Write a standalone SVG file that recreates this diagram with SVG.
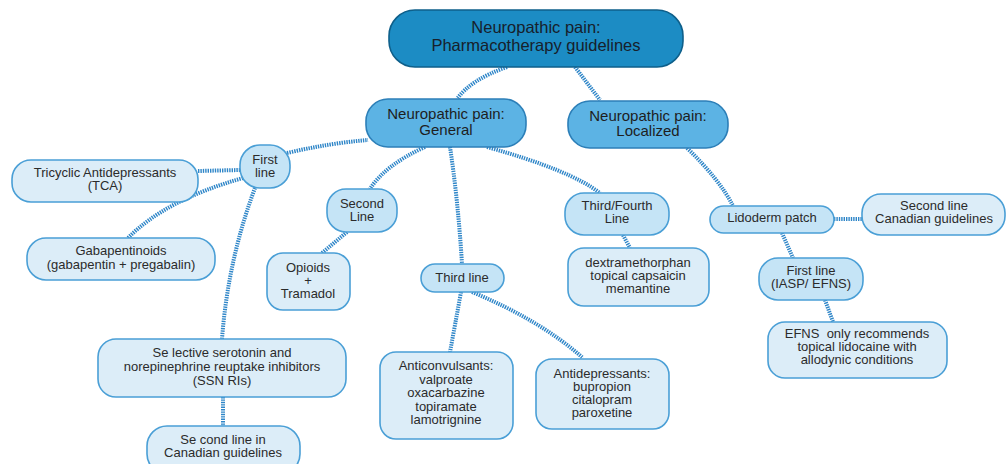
<svg xmlns="http://www.w3.org/2000/svg" width="1007" height="464" viewBox="0 0 1007 464">
<style>
text{font-family:"Liberation Sans",Arial,sans-serif;text-anchor:middle;fill:#2b2b2b;white-space:pre}
.s{font-size:13px}
.m{font-size:15px;fill:#1e1e1e}
.l{font-size:16.5px;fill:#17202b}
.leaf{fill:#dcedf8;stroke:#4a9fd6;stroke-width:1.6}
.cat{fill:#c5e4f6;stroke:#4a9fd6;stroke-width:1.6}
.mid{fill:#5cb3e4;stroke:#2c7fb8;stroke-width:1.6}
.root{fill:#1c8cc4;stroke:#0e5f8a;stroke-width:1.6}
.c{fill:none;stroke:#2f86c8;stroke-width:4;stroke-dasharray:1.4 1}
</style>
<rect width="1007" height="464" fill="#fff"/>
<g id="connectors">
<path class="c" d="M507,67 Q470,80 457,99"/>
<path class="c" d="M575,67 L600,100"/>
<path class="c" d="M287,153 Q330,143 368,140"/>
<path class="c" d="M198,171 L240,170"/>
<path class="c" d="M243,178 Q165,200 128,238"/>
<path class="c" d="M255,188 Q228,260 222,339"/>
<path class="c" d="M223,397 L223,426"/>
<path class="c" d="M425,147 Q385,165 370,189"/>
<path class="c" d="M347,232 L322,253"/>
<path class="c" d="M450,147 Q458,200 462,264"/>
<path class="c" d="M487,147 Q570,170 600,193"/>
<path class="c" d="M623,235 L630,248"/>
<path class="c" d="M461,292 Q455,325 450,352"/>
<path class="c" d="M472,292 Q540,320 583,358"/>
<path class="c" d="M687,148 Q720,180 733,206"/>
<path class="c" d="M834,219 L862,219"/>
<path class="c" d="M782,233 L793,258"/>
<path class="c" d="M825,300 L833,322"/>
</g>
<g id="root"><rect class="root" x="389" y="10" width="294" height="57" rx="26"/>
<text class="l" x="536" y="33">Neuropathic pain:</text><text class="l" x="536" y="51">Pharmacotherapy guidelines</text></g>
<g id="general"><rect class="mid" x="366" y="99" width="160" height="48" rx="22"/>
<text class="m" x="446" y="119">Neuropathic pain:</text><text class="m" x="446" y="135">General</text></g>
<g id="localized"><rect class="mid" x="568" y="101" width="160" height="47" rx="22"/>
<text class="m" x="648" y="121">Neuropathic pain:</text><text class="m" x="648" y="136">Localized</text></g>
<g id="first-line"><rect class="cat" x="240" y="145" width="50" height="43" rx="20"/>
<text class="s" x="265" y="164">First</text><text class="s" x="265" y="177">line</text></g>
<g id="tca"><rect class="leaf" x="12" y="160" width="186" height="42" rx="19"/>
<text class="s" x="105" y="177">Tricyclic Antidepressants</text><text class="s" x="105" y="190">(TCA)</text></g>
<g id="gaba"><rect class="leaf" x="27" y="238" width="188" height="42" rx="19"/>
<text class="s" x="121" y="255">Gabapentinoids</text><text class="s" x="121" y="269">(gabapentin + pregabalin)</text></g>
<g id="second-line"><rect class="cat" x="327" y="189" width="70" height="43" rx="19"/>
<text class="s" x="362" y="208">Second</text><text class="s" x="362" y="221">Line</text></g>
<g id="opioids"><rect class="leaf" x="267" y="253" width="83" height="57" rx="16"/>
<text class="s" x="308" y="272">Opioids</text><text class="s" x="308" y="285">+</text><text class="s" x="308" y="298">Tramadol</text></g>
<g id="third-line"><rect class="cat" x="421" y="264" width="83" height="28" rx="14"/>
<text class="s" x="462" y="282">Third line</text></g>
<g id="third-fourth"><rect class="cat" x="565" y="193" width="104" height="42" rx="19"/>
<text class="s" x="617" y="210">Third/Fourth</text><text class="s" x="617" y="223">Line</text></g>
<g id="dextra"><rect class="leaf" x="568" y="248" width="141" height="58" rx="16"/>
<text class="s" x="638" y="267">dextramethorphan</text><text class="s" x="638" y="280">topical capsaicin</text><text class="s" x="638" y="293">memantine</text></g>
<g id="lidoderm"><rect class="cat" x="710" y="206" width="124" height="27" rx="13.5"/>
<text class="s" x="772" y="222">Lidoderm patch</text></g>
<g id="second-canadian"><rect class="leaf" x="862" y="194" width="143" height="41" rx="19"/>
<text class="s" x="934" y="210">Second line</text><text class="s" x="934" y="223">Canadian guidelines</text></g>
<g id="first-iasp"><rect class="cat" x="759" y="258" width="104" height="42" rx="19"/>
<text class="s" x="811" y="275">First line</text><text class="s" x="811" y="288">(IASP/ EFNS)</text></g>
<g id="efns"><rect class="leaf" x="768" y="322" width="179" height="56" rx="17"/>
<text class="s" x="857" y="338">EFNS  only recommends</text><text class="s" x="857" y="351">topical lidocaine with</text><text class="s" x="857" y="364">allodynic conditions</text></g>
<g id="ssnri"><rect class="leaf" x="98" y="339" width="248" height="58" rx="18"/>
<text class="s" x="222" y="357">Se lective serotonin and</text><text class="s" x="222" y="371">norepinephrine reuptake inhibitors</text><text class="s" x="222" y="385">(SSN RIs)</text></g>
<g id="second-canadian-ssnri"><rect class="leaf" x="147" y="426" width="153" height="48" rx="20"/>
<text class="s" x="223" y="444">Se cond line in</text><text class="s" x="223" y="457">Canadian guidelines</text></g>
<g id="anticonvulsants"><rect class="leaf" x="380" y="352" width="133" height="87" rx="16"/>
<text class="s" x="446" y="370">Anticonvulsants:</text><text class="s" x="446" y="384">valproate</text><text class="s" x="446" y="397">oxacarbazine</text><text class="s" x="446" y="411">topiramate</text><text class="s" x="446" y="424">lamotrignine</text></g>
<g id="antidepressants"><rect class="leaf" x="536" y="359" width="133" height="70" rx="16"/>
<text class="s" x="602" y="378">Antidepressants:</text><text class="s" x="602" y="391">bupropion</text><text class="s" x="602" y="404">citalopram</text><text class="s" x="602" y="417">paroxetine</text></g>
</svg>
